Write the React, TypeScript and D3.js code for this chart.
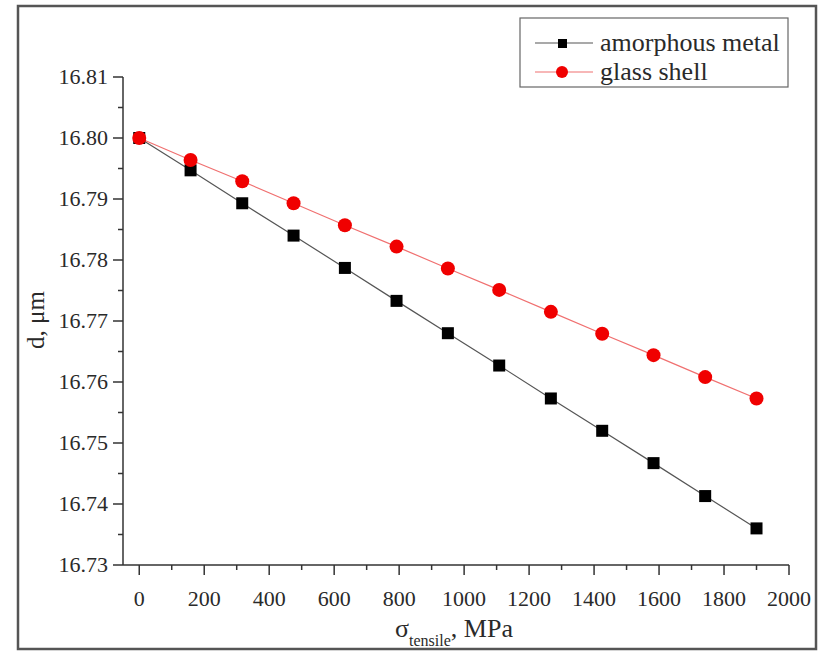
import React from "react";
import * as d3 from "d3";

const stress = [0, 158, 317, 475, 633, 792, 950, 1108, 1267, 1425, 1583, 1742, 1900];
const amorphousMetal = [16.8, 16.7947, 16.7893, 16.784, 16.7787, 16.7733, 16.768, 16.7627, 16.7573, 16.752, 16.7467, 16.7413, 16.736];
const glassShell = [16.8, 16.7964, 16.7929, 16.7893, 16.7857, 16.7822, 16.7786, 16.7751, 16.7715, 16.7679, 16.7644, 16.7608, 16.7573];
const xTicks = [0, 200, 400, 600, 800, 1000, 1200, 1400, 1600, 1800, 2000];
const yTicks = [16.73, 16.74, 16.75, 16.76, 16.77, 16.78, 16.79, 16.8, 16.81];
const seriesNames = ["amorphous metal", "glass shell"];

const W = 823;
const H = 651;
const FONT = "'Times New Roman', Times, 'Liberation Serif', 'DejaVu Serif', serif";

export default function App() {
  const x = d3.scaleLinear().domain([-50, 2000]).range([123, 789]);
  const y = d3.scaleLinear().domain([16.73, 16.81]).range([565, 77]);
  const line = d3
    .line<[number, number]>()
    .x((d) => x(d[0]))
    .y((d) => y(d[1]));
  const blackPts: [number, number][] = stress.map((s, i) => [s, amorphousMetal[i]]);
  const redPts: [number, number][] = stress.map((s, i) => [s, glassShell[i]]);
  const xMinor = d3.range(100, 2000, 200);
  const yMinor = d3.range(0, 8).map((i) => 16.735 + i * 0.01);
  const axisColor = "#333";
  const textColor = "#2a2a2a";
  const sq = 12;
  const ts = { fontFamily: FONT };

  return (
    <svg
      width={W}
      height={H}
      style={{ position: "absolute", left: 0, top: 0, background: "#fff", fontFamily: FONT }}
    >
      <rect x={0} y={0} width={W} height={H} fill="#fff" />
      <rect x={18} y={6} width={798} height={643} fill="none" stroke="#555" strokeWidth={2.5} />

      {/* axes */}
      <line x1={x(-50)} x2={x(-50)} y1={y(16.81)} y2={y(16.73)} stroke={axisColor} strokeWidth={1.5} />
      <line x1={x(-50)} x2={x(2000)} y1={y(16.73)} y2={y(16.73)} stroke={axisColor} strokeWidth={1.5} />

      {yTicks.map((t) => (
        <g key={"yt" + t}>
          <line x1={x(-50) - 10} x2={x(-50)} y1={y(t)} y2={y(t)} stroke={axisColor} strokeWidth={1.5} />
          <text style={ts} x={x(-50) - 15} y={y(t)} dy="0.34em" textAnchor="end" fontSize={22} fill={textColor}>
            {t.toFixed(2)}
          </text>
        </g>
      ))}
      {yMinor.map((t) => (
        <line key={"ym" + t} x1={x(-50) - 5} x2={x(-50)} y1={y(t)} y2={y(t)} stroke={axisColor} strokeWidth={1.5} />
      ))}
      {xTicks.map((t) => (
        <g key={"xt" + t}>
          <line x1={x(t)} x2={x(t)} y1={y(16.73)} y2={y(16.73) + 10} stroke={axisColor} strokeWidth={1.5} />
          <text style={ts} x={x(t)} y={y(16.73) + 41} textAnchor="middle" fontSize={22} fill={textColor}>
            {t}
          </text>
        </g>
      ))}
      {xMinor.map((t) => (
        <line key={"xm" + t} x1={x(t)} x2={x(t)} y1={y(16.73)} y2={y(16.73) + 5} stroke={axisColor} strokeWidth={1.5} />
      ))}

      {/* axis titles */}
      <text
        style={ts}
        transform={`translate(44, 320) rotate(-90)`}
        textAnchor="middle"
        fontSize={25}
        fill={textColor}
      >
        d, μm
      </text>
      <text style={ts} x={454} y={637} textAnchor="middle" fontSize={26} fill={textColor}>
        σ
        <tspan fontSize={16} dy={9}>tensile</tspan>
        <tspan dy={-9}>, MPa</tspan>
      </text>

      {/* series */}
      <path d={line(blackPts) || ""} fill="none" stroke="#555" strokeWidth={1.2} />
      <path d={line(redPts) || ""} fill="none" stroke="#f07070" strokeWidth={1.2} />
      {blackPts.map((p, i) => (
        <rect key={"b" + i} x={x(p[0]) - sq / 2} y={y(p[1]) - sq / 2} width={sq} height={sq} fill="#000" />
      ))}
      {redPts.map((p, i) => (
        <circle key={"r" + i} cx={x(p[0])} cy={y(p[1])} r={7} fill="#f00000" />
      ))}

      {/* legend */}
      <rect x={520} y={18} width={268} height={69} fill="#fff" stroke="#666" strokeWidth={1.2} />
      <line x1={535} x2={593} y1={43} y2={43} stroke="#555" strokeWidth={1.2} />
      <rect x={558} y={39} width={9} height={9} fill="#000" />
      <text style={ts} x={600} y={43} dy="0.32em" fontSize={26} fill={textColor}>
        {seriesNames[0]}
      </text>
      <line x1={535} x2={593} y1={72} y2={72} stroke="#f07070" strokeWidth={1.2} />
      <circle cx={562} cy={72} r={6} fill="#f00000" />
      <text style={ts} x={600} y={72} dy="0.32em" fontSize={26} fill={textColor}>
        {seriesNames[1]}
      </text>
    </svg>
  );
}
